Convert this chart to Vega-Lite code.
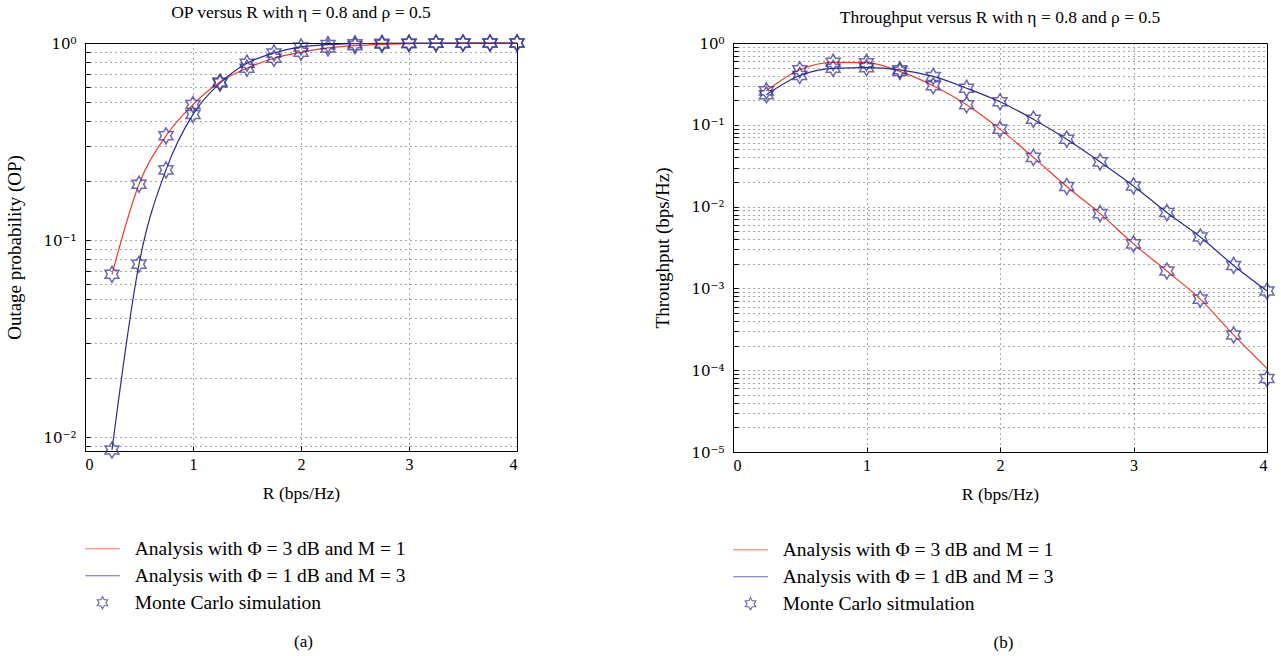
{
  "$schema": "https://vega.github.io/schema/vega-lite/v6.json",
  "padding": {"left": 5, "top": 3, "right": 5, "bottom": 3},
  "config": {
    "font": "Liberation Serif",
    "view": {"stroke": "#000", "strokeWidth": 1},
    "axis": {
      "labelFont": "Liberation Serif", "labelFontSize": 16, "labelColor": "#000",
      "titleFont": "Liberation Serif", "titleFontSize": 17.5, "titleFontWeight": "normal", "titleColor": "#000",
      "domainColor": "#000", "tickColor": "#000", "tickSize": -5,
      "grid": true, "gridColor": "#000", "gridDash": [1, 4], "gridOpacity": 0.7,
      "labelOverlap": false
    },
    "axisX": {"labelPadding": 10, "titlePadding": 12},
    "axisY": {"labelPadding": 14, "titlePadding": 18, "titleFontSize": 19, "labelFont": "DejaVu Serif", "labelFontSize": 15},
    "legend": {
      "labelFont": "Liberation Serif", "labelFontSize": 19.5, "labelColor": "#000", "labelLimit": 500,
      "symbolSize": 144, "symbolStrokeWidth": 1.2, "symbolOffset": 7.75, "labelOffset": 22.5,
      "rowPadding": 6, "padding": 0
    },
    "title": {"font": "Liberation Serif", "fontSize": 17.5, "fontWeight": "normal", "color": "#000"}
  },
  "datasets": {
    "op": [
      {"c": "A", "R": 0.25, "v": 0.067}, {"c": "A", "R": 0.5, "v": 0.192}, {"c": "A", "R": 0.75, "v": 0.338}, {"c": "A", "R": 1.0, "v": 0.487},
      {"c": "A", "R": 1.25, "v": 0.634}, {"c": "A", "R": 1.5, "v": 0.745}, {"c": "A", "R": 1.75, "v": 0.837}, {"c": "A", "R": 2.0, "v": 0.897},
      {"c": "A", "R": 2.25, "v": 0.944}, {"c": "A", "R": 2.5, "v": 0.97}, {"c": "A", "R": 2.75, "v": 0.985}, {"c": "A", "R": 3.0, "v": 0.993},
      {"c": "A", "R": 3.25, "v": 0.997}, {"c": "A", "R": 3.5, "v": 0.9985}, {"c": "A", "R": 3.75, "v": 0.9993}, {"c": "A", "R": 4.0, "v": 0.9997},
      {"c": "B", "R": 0.25, "v": 0.0086}, {"c": "B", "R": 0.5, "v": 0.0754}, {"c": "B", "R": 0.75, "v": 0.227}, {"c": "B", "R": 1.0, "v": 0.434},
      {"c": "B", "R": 1.25, "v": 0.626}, {"c": "B", "R": 1.5, "v": 0.79}, {"c": "B", "R": 1.75, "v": 0.89}, {"c": "B", "R": 2.0, "v": 0.955},
      {"c": "B", "R": 2.25, "v": 0.981}, {"c": "B", "R": 2.5, "v": 0.992}, {"c": "B", "R": 2.75, "v": 0.997}, {"c": "B", "R": 3.0, "v": 0.999},
      {"c": "B", "R": 3.25, "v": 0.9996}, {"c": "B", "R": 3.5, "v": 0.9999}, {"c": "B", "R": 3.75, "v": 1.0}, {"c": "B", "R": 4.0, "v": 1.0},
      {"c": "MC", "R": 0.25, "v": 0.067}, {"c": "MC", "R": 0.5, "v": 0.192}, {"c": "MC", "R": 0.75, "v": 0.338}, {"c": "MC", "R": 1.0, "v": 0.487},
      {"c": "MC", "R": 1.25, "v": 0.634}, {"c": "MC", "R": 1.5, "v": 0.745}, {"c": "MC", "R": 1.75, "v": 0.837}, {"c": "MC", "R": 2.0, "v": 0.897},
      {"c": "MC", "R": 2.25, "v": 0.944}, {"c": "MC", "R": 2.5, "v": 0.97}, {"c": "MC", "R": 2.75, "v": 0.985}, {"c": "MC", "R": 3.0, "v": 0.993},
      {"c": "MC", "R": 3.25, "v": 0.997}, {"c": "MC", "R": 3.5, "v": 0.9985}, {"c": "MC", "R": 3.75, "v": 0.9993}, {"c": "MC", "R": 4.0, "v": 0.9997},
      {"c": "MC", "R": 0.25, "v": 0.0086}, {"c": "MC", "R": 0.5, "v": 0.0754}, {"c": "MC", "R": 0.75, "v": 0.227}, {"c": "MC", "R": 1.0, "v": 0.434},
      {"c": "MC", "R": 1.25, "v": 0.626}, {"c": "MC", "R": 1.5, "v": 0.79}, {"c": "MC", "R": 1.75, "v": 0.89}, {"c": "MC", "R": 2.0, "v": 0.955},
      {"c": "MC", "R": 2.25, "v": 0.981}, {"c": "MC", "R": 2.5, "v": 0.992}, {"c": "MC", "R": 2.75, "v": 0.997}, {"c": "MC", "R": 3.0, "v": 0.999},
      {"c": "MC", "R": 3.25, "v": 0.9996}, {"c": "MC", "R": 3.5, "v": 0.9999}, {"c": "MC", "R": 3.75, "v": 1.0}, {"c": "MC", "R": 4.0, "v": 1.0}
    ],
    "tp": [
      {"c": "A", "R": 0.25, "v": 0.26}, {"c": "A", "R": 0.5, "v": 0.47}, {"c": "A", "R": 0.75, "v": 0.58}, {"c": "A", "R": 1.0, "v": 0.575},
      {"c": "A", "R": 1.25, "v": 0.45}, {"c": "A", "R": 1.5, "v": 0.3}, {"c": "A", "R": 1.75, "v": 0.176}, {"c": "A", "R": 2.0, "v": 0.0885},
      {"c": "A", "R": 2.25, "v": 0.04}, {"c": "A", "R": 2.5, "v": 0.0176}, {"c": "A", "R": 2.75, "v": 0.0082}, {"c": "A", "R": 3.0, "v": 0.0035},
      {"c": "A", "R": 3.25, "v": 0.00163}, {"c": "A", "R": 3.5, "v": 0.00074}, {"c": "A", "R": 3.75, "v": 0.00027}, {"c": "A", "R": 4.0, "v": 0.000105},
      {"c": "B", "R": 0.25, "v": 0.233}, {"c": "B", "R": 0.5, "v": 0.4}, {"c": "B", "R": 0.75, "v": 0.49}, {"c": "B", "R": 1.0, "v": 0.5},
      {"c": "B", "R": 1.25, "v": 0.47}, {"c": "B", "R": 1.5, "v": 0.39}, {"c": "B", "R": 1.75, "v": 0.28}, {"c": "B", "R": 2.0, "v": 0.191},
      {"c": "B", "R": 2.25, "v": 0.117}, {"c": "B", "R": 2.5, "v": 0.0667}, {"c": "B", "R": 2.75, "v": 0.0352}, {"c": "B", "R": 3.0, "v": 0.0179},
      {"c": "B", "R": 3.25, "v": 0.00845}, {"c": "B", "R": 3.5, "v": 0.00425}, {"c": "B", "R": 3.75, "v": 0.00191}, {"c": "B", "R": 4.0, "v": 0.00093},
      {"c": "MC", "R": 0.25, "v": 0.26}, {"c": "MC", "R": 0.5, "v": 0.47}, {"c": "MC", "R": 0.75, "v": 0.58}, {"c": "MC", "R": 1.0, "v": 0.575},
      {"c": "MC", "R": 1.25, "v": 0.45}, {"c": "MC", "R": 1.5, "v": 0.3}, {"c": "MC", "R": 1.75, "v": 0.176}, {"c": "MC", "R": 2.0, "v": 0.0885},
      {"c": "MC", "R": 2.25, "v": 0.04}, {"c": "MC", "R": 2.5, "v": 0.0176}, {"c": "MC", "R": 2.75, "v": 0.0082}, {"c": "MC", "R": 3.0, "v": 0.0035},
      {"c": "MC", "R": 3.25, "v": 0.00163}, {"c": "MC", "R": 3.5, "v": 0.00074}, {"c": "MC", "R": 3.75, "v": 0.00027}, {"c": "MC", "R": 4.0, "v": 0.000079},
      {"c": "MC", "R": 0.25, "v": 0.233}, {"c": "MC", "R": 0.5, "v": 0.4}, {"c": "MC", "R": 0.75, "v": 0.49}, {"c": "MC", "R": 1.0, "v": 0.5},
      {"c": "MC", "R": 1.25, "v": 0.47}, {"c": "MC", "R": 1.5, "v": 0.39}, {"c": "MC", "R": 1.75, "v": 0.28}, {"c": "MC", "R": 2.0, "v": 0.191},
      {"c": "MC", "R": 2.25, "v": 0.117}, {"c": "MC", "R": 2.5, "v": 0.0667}, {"c": "MC", "R": 2.75, "v": 0.0352}, {"c": "MC", "R": 3.0, "v": 0.0179},
      {"c": "MC", "R": 3.25, "v": 0.00845}, {"c": "MC", "R": 3.5, "v": 0.00425}, {"c": "MC", "R": 3.75, "v": 0.00191}, {"c": "MC", "R": 4.0, "v": 0.00093}
    ]
  },
  "spacing": 125,
  "resolve": {"scale": {"color": "independent", "shape": "independent"}},
  "hconcat": [
    {
      "title": {"text": "(a)", "orient": "bottom", "anchor": "middle", "offset": 20, "dx": 37, "fontSize": 17},
      "resolve": {"scale": {"color": "independent", "shape": "independent"}},
      "hconcat": [
        {
          "width": 432, "height": 408,
          "title": {"text": "OP versus R with η = 0.8 and ρ = 0.5", "offset": 10},
          "data": {"name": "op"},
          "encoding": {
            "x": {"field": "R", "type": "quantitative", "scale": {"domain": [0, 4], "nice": false},
                  "axis": {"values": [0, 1, 2, 3, 4], "title": "R (bps/Hz)", "format": "d"}},
            "y": {"field": "v", "type": "quantitative", "scale": {"type": "log", "domain": [0.0085, 1], "nice": false},
                  "axis": {"title": "Outage probability (OP)",
                           "values": [0.009, 0.01, 0.02, 0.03, 0.04, 0.05, 0.06, 0.07, 0.08, 0.09, 0.1, 0.2, 0.3, 0.4, 0.5, 0.6, 0.7, 0.8, 0.9, 1],
                           "labelExpr": "datum.value == 1 ? '10⁰' : datum.value == 0.1 ? '10⁻¹' : datum.value == 0.01 ? '10⁻²' : ''"}}
          },
          "layer": [
            {
              "transform": [{"filter": "datum.c != 'MC'"}],
              "mark": {"type": "line", "interpolate": "monotone", "strokeWidth": 1.2},
              "encoding": {
                "color": {"field": "c", "type": "nominal",
                          "scale": {"domain": ["A", "B", "MC"], "range": ["#f03c28", "#2c2c96", "#2c2c96"]},
                          "legend": {"title": null, "orient": "bottom", "direction": "vertical", "offset": 37,
                                     "labelExpr": "datum.value == 'A' ? 'Analysis with Φ = 3 dB and M = 1' : datum.value == 'B' ? 'Analysis with Φ = 1 dB and M = 3' : 'Monte Carlo simulation'"}}
              }
            },
            {
              "transform": [{"filter": "datum.c == 'MC'"}],
              "mark": {"type": "point", "filled": false, "size": 260, "strokeWidth": 1.5},
              "encoding": {
                "color": {"field": "c", "type": "nominal",
                          "scale": {"domain": ["A", "B", "MC"], "range": ["#f03c28", "#2c2c96", "#2c2c96"]},
                          "legend": {"title": null, "orient": "bottom", "direction": "vertical", "offset": 37,
                                     "labelExpr": "datum.value == 'A' ? 'Analysis with Φ = 3 dB and M = 1' : datum.value == 'B' ? 'Analysis with Φ = 1 dB and M = 3' : 'Monte Carlo simulation'"}},
                "shape": {"field": "c", "type": "nominal",
                          "scale": {"domain": ["A", "B", "MC"], "range": ["M-2.9,0L2.9,0", "M-2.9,0L2.9,0", "M0,-1L0.2887,-0.5L0.866,-0.5L0.5774,0L0.866,0.5L0.2887,0.5L0,1L-0.2887,0.5L-0.866,0.5L-0.5774,0L-0.866,-0.5L-0.2887,-0.5Z"]},
                          "legend": {"title": null, "orient": "bottom", "direction": "vertical", "offset": 37,
                                     "labelExpr": "datum.value == 'A' ? 'Analysis with Φ = 3 dB and M = 1' : datum.value == 'B' ? 'Analysis with Φ = 1 dB and M = 3' : 'Monte Carlo simulation'"}}
              }
            }
          ]
        }
      ]
    },
    {
      "title": {"text": "(b)", "orient": "bottom", "anchor": "middle", "offset": 20, "dx": 38, "fontSize": 17},
      "resolve": {"scale": {"color": "independent", "shape": "independent"}},
      "hconcat": [
        {
          "width": 534, "height": 409,
          "title": {"text": "Throughput versus R with η = 0.8 and ρ = 0.5", "offset": 10},
          "data": {"name": "tp"},
          "encoding": {
            "x": {"field": "R", "type": "quantitative", "scale": {"domain": [0, 4], "nice": false},
                  "axis": {"values": [0, 1, 2, 3, 4], "title": "R (bps/Hz)", "format": "d"}},
            "y": {"field": "v", "type": "quantitative", "scale": {"type": "log", "domain": [0.00001, 1], "nice": false},
                  "axis": {"title": "Throughput (bps/Hz)",
                           "values": [0.00001, 0.00002, 0.00003, 0.00004, 0.00005, 0.00006, 0.00007, 0.00008, 0.00009, 0.0001, 0.0002, 0.0003, 0.0004, 0.0005, 0.0006, 0.0007, 0.0008, 0.0009, 0.001, 0.002, 0.003, 0.004, 0.005, 0.006, 0.007, 0.008, 0.009, 0.01, 0.02, 0.03, 0.04, 0.05, 0.06, 0.07, 0.08, 0.09, 0.1, 0.2, 0.3, 0.4, 0.5, 0.6, 0.7, 0.8, 0.9, 1],
                           "labelExpr": "datum.value == 1 ? '10⁰' : datum.value == 0.1 ? '10⁻¹' : datum.value == 0.01 ? '10⁻²' : datum.value == 0.001 ? '10⁻³' : datum.value == 0.0001 ? '10⁻⁴' : datum.value == 0.00001 ? '10⁻⁵' : ''"}}
          },
          "layer": [
            {
              "transform": [{"filter": "datum.c != 'MC'"}],
              "mark": {"type": "line", "interpolate": "monotone", "strokeWidth": 1.2},
              "encoding": {
                "color": {"field": "c", "type": "nominal",
                          "scale": {"domain": ["A", "B", "MC"], "range": ["#f03c28", "#2c2c96", "#2c2c96"]},
                          "legend": {"title": null, "orient": "bottom", "direction": "vertical", "offset": 37,
                                     "labelExpr": "datum.value == 'A' ? 'Analysis with Φ = 3 dB and M = 1' : datum.value == 'B' ? 'Analysis with Φ = 1 dB and M = 3' : 'Monte Carlo sitmulation'"}}
              }
            },
            {
              "transform": [{"filter": "datum.c == 'MC'"}],
              "mark": {"type": "point", "filled": false, "size": 260, "strokeWidth": 1.5},
              "encoding": {
                "color": {"field": "c", "type": "nominal",
                          "scale": {"domain": ["A", "B", "MC"], "range": ["#f03c28", "#2c2c96", "#2c2c96"]},
                          "legend": {"title": null, "orient": "bottom", "direction": "vertical", "offset": 37,
                                     "labelExpr": "datum.value == 'A' ? 'Analysis with Φ = 3 dB and M = 1' : datum.value == 'B' ? 'Analysis with Φ = 1 dB and M = 3' : 'Monte Carlo sitmulation'"}},
                "shape": {"field": "c", "type": "nominal",
                          "scale": {"domain": ["A", "B", "MC"], "range": ["M-2.9,0L2.9,0", "M-2.9,0L2.9,0", "M0,-1L0.2887,-0.5L0.866,-0.5L0.5774,0L0.866,0.5L0.2887,0.5L0,1L-0.2887,0.5L-0.866,0.5L-0.5774,0L-0.866,-0.5L-0.2887,-0.5Z"]},
                          "legend": {"title": null, "orient": "bottom", "direction": "vertical", "offset": 37,
                                     "labelExpr": "datum.value == 'A' ? 'Analysis with Φ = 3 dB and M = 1' : datum.value == 'B' ? 'Analysis with Φ = 1 dB and M = 3' : 'Monte Carlo sitmulation'"}}
              }
            }
          ]
        }
      ]
    }
  ]
}
